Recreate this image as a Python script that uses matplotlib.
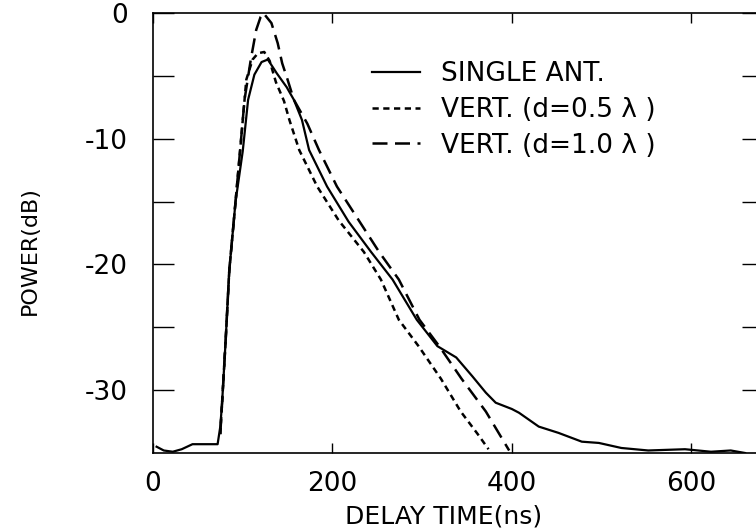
import matplotlib
matplotlib.use('Agg')
import matplotlib.pyplot as plt
from matplotlib.ticker import FixedLocator

# delay time (ns) / power (dB)
single_x = [4, 12, 22, 32, 44, 57, 72, 75, 77, 81, 85, 92, 100, 106, 113, 121, 128,
            138, 149, 157, 166, 174, 194, 218, 243, 267, 294, 317, 338, 356, 371, 382,
            400, 408, 430, 452, 478, 497, 522, 552, 593, 622, 644, 660]
single_y = [-34.5, -34.8, -34.9, -34.7, -34.3, -34.3, -34.3, -32.9, -31.0, -26.0, -20.5,
            -15.0, -11.0, -6.9, -4.9, -3.9, -3.7, -4.8, -5.9, -6.9, -8.5, -10.9, -13.8,
            -16.6, -19.0, -21.2, -24.4, -26.5, -27.4, -28.9, -30.2, -31.0, -31.5, -31.8,
            -32.9, -33.4, -34.1, -34.2, -34.6, -34.8, -34.7, -34.9, -34.8, -35.0]

half_x = [75, 77, 81, 85, 92, 97, 104, 111, 117, 124, 130, 137, 146, 152, 163, 183,
          207, 235, 254, 274, 296, 321, 343, 362, 374]
half_y = [-33.5, -31.0, -26.0, -20.5, -15.0, -11.0, -5.3, -3.7, -3.2, -3.1, -3.8, -5.5,
          -7.0, -8.5, -10.9, -13.8, -16.5, -19.0, -21.2, -24.4, -26.5, -29.1, -31.7,
          -33.5, -34.7]

one_x = [75, 77, 81, 85, 92, 97, 102, 109, 115, 120, 123, 132, 139, 144, 150, 157, 172,
         185, 205, 252, 274, 297, 319, 344, 371, 397]
one_y = [-33.5, -31.0, -26.0, -20.5, -15.0, -11.0, -6.9, -3.7, -1.35, -0.3, 0.0, -0.8,
         -2.4, -4.0, -5.3, -6.9, -8.8, -10.9, -13.8, -19.0, -21.2, -24.4, -26.5, -29.1,
         -31.7, -34.8]

labels = ['SINGLE ANT.', 'VERT. (d=0.5 λ )', 'VERT. (d=1.0 λ )']

plt.rcParams['font.family'] = ['DejaVu Sans']
plt.rcParams['axes.unicode_minus'] = False

fig = plt.figure(figsize=(7.56, 5.31), dpi=100)
ax = fig.add_axes([0.2024, 0.1469, 0.8069, 0.8286])

ax.plot(single_x, single_y, color='black', lw=1.6, ls='-', label=labels[0])
ax.plot(half_x, half_y, color='black', lw=1.8, ls=(0, (2.5, 1.8)), label=labels[1])
ax.plot(one_x, one_y, color='black', lw=1.8, ls=(0, (6, 3)), label=labels[2], clip_on=False)

ax.set_xlim(0, 680)
ax.set_ylim(-35, 0)
ax.set_xticks([0, 200, 400, 600])
ax.set_yticks([0, -10, -20, -30])
ax.yaxis.set_minor_locator(FixedLocator([-5, -15, -25]))

ax.tick_params(axis='y', which='both', direction='in', length=15, width=1,
               left=True, right=True, labelsize=19, pad=18)
ax.tick_params(axis='x', direction='in', length=7, width=1,
               top=True, bottom=True, labelsize=19, pad=13)
for sp in ax.spines.values():
    sp.set_linewidth(1.2)

ax.set_xlabel('DELAY TIME(ns)', fontsize=18)
ax.xaxis.set_label_coords(0.477, -0.116)
ax.set_ylabel('POWER(dB)', fontsize=16)
ax.yaxis.set_label_coords(-0.185, 0.459)

ax.legend(frameon=False, loc='upper left', bbox_to_anchor=(372 / 756, 1 - 61 / 531),
          bbox_transform=fig.transFigure, borderpad=0, borderaxespad=0,
          handlelength=1.8, handletextpad=0.8, labelspacing=0.37, fontsize=19)

fig.savefig('out.png', dpi=100)
